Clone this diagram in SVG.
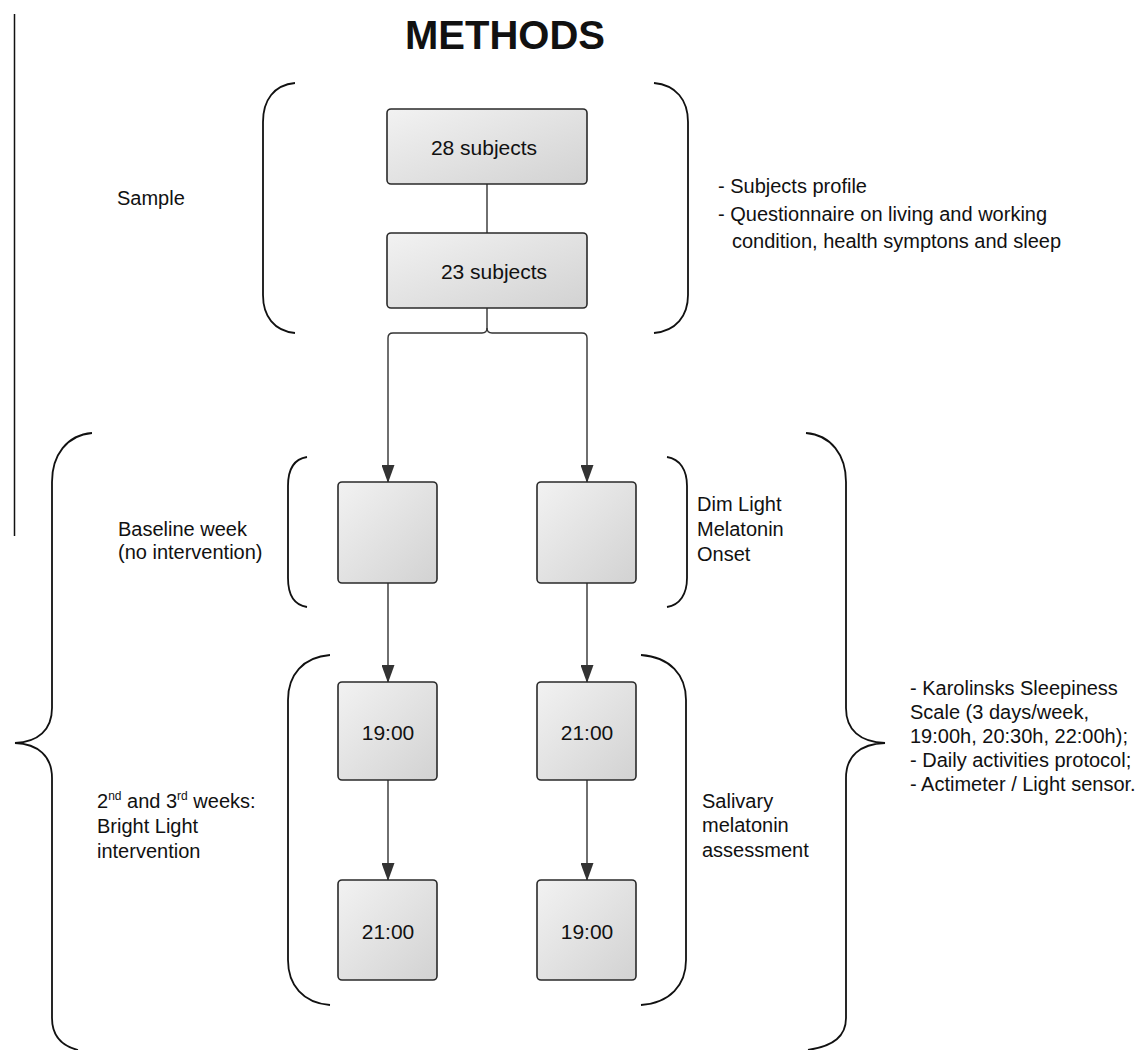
<svg xmlns="http://www.w3.org/2000/svg" width="1147" height="1050" viewBox="0 0 1147 1050">
<defs>
<linearGradient id="boxfill" x1="0" y1="0" x2="1" y2="1">
<stop offset="0" stop-color="#f2f2f2"/>
<stop offset="1" stop-color="#d2d2d2"/>
</linearGradient>
<marker id="arrow" markerWidth="18" markerHeight="13" refX="17" refY="6.5" orient="auto" markerUnits="userSpaceOnUse" viewBox="0 0 18 13">
<path d="M0,0 L18,6.5 L0,13 Z" fill="#333"/>
</marker>
</defs>
<style>
.box{fill:url(#boxfill);stroke:#2a2a2a;stroke-width:1.6}
.t{font-family:"Liberation Sans",Arial,sans-serif;font-size:20px;fill:#111}
.bt{font-family:"Liberation Sans",Arial,sans-serif;font-size:21px;fill:#111;text-anchor:middle}
.br{fill:none;stroke:#111;stroke-width:1.8}
.conn{fill:none;stroke:#333;stroke-width:1.4}
.sup{font-size:12px}
</style>
<rect width="1147" height="1050" fill="#fff"/>
<text x="505" y="49" style="font-family:'Liberation Sans',Arial,sans-serif;font-size:40px;font-weight:bold;text-anchor:middle" fill="#111">METHODS</text>
<line x1="14.5" y1="14" x2="14.5" y2="536" stroke="#111" stroke-width="1.5"/>

<g id="brackets">
<path class="br" d="M295,83 C274,85 263,100 263,122 L263,295 C263,316 274,331 295,333"/>
<path class="br" d="M654,83 C676,85 688,100 688,122 L688,295 C688,316 676,331 654,333"/>
<path class="br" d="M307,457 C294,459 288,470 288,486 L288,578 C288,594 294,605 307,607"/>
<path class="br" d="M667,457 C680,459 687,470 687,486 L687,578 C687,594 680,605 667,607"/>
<path class="br" d="M330,655 C303,657 288,675 288,700 L288,960 C288,985 303,1003 330,1005"/>
<path class="br" d="M641,655 C670,657 686,675 686,700 L686,960 C686,985 670,1003 641,1005"/>
<path class="br" d="M92,433 C67,435 52,455 52,482 L52,708 C52,730 38,742 15,743 C38,744 52,756 52,778 L52,1018 C52,1036 62,1046 78,1050"/>
<path class="br" d="M806,433 C831,435 846,455 846,482 L846,708 C846,730 860,742 885,743 C860,744 846,756 846,778 L846,1018 C846,1036 834,1046 808,1050"/>
</g>

<g id="connectors">
<line class="conn" x1="487" y1="184" x2="487" y2="233"/>
<path class="conn" d="M487,308 V328 Q487,333 482,333 H393 Q388,333 388,338 V482" marker-end="url(#arrow)"/>
<path class="conn" d="M487,328 Q487,333 492,333 H582 Q587,333 587,338 V482" marker-end="url(#arrow)"/>
<line class="conn" x1="388" y1="583" x2="388" y2="682" marker-end="url(#arrow)"/>
<line class="conn" x1="587" y1="583" x2="587" y2="682" marker-end="url(#arrow)"/>
<line class="conn" x1="388" y1="780" x2="388" y2="880" marker-end="url(#arrow)"/>
<line class="conn" x1="587" y1="780" x2="587" y2="880" marker-end="url(#arrow)"/>
</g>

<g id="n28"><rect class="box" x="387" y="109" width="200" height="75" rx="4"/><text class="bt" x="484" y="155">28 subjects</text></g>
<g id="n23"><rect class="box" x="387" y="233" width="200" height="75" rx="4"/><text class="bt" x="494" y="279">23 subjects</text></g>
<g id="baseL"><rect class="box" x="338" y="482" width="99" height="101" rx="4"/></g>
<g id="baseR"><rect class="box" x="537" y="482" width="99" height="101" rx="4"/></g>
<g id="l1900"><rect class="box" x="338" y="682" width="99" height="98" rx="4"/><text class="bt" x="388" y="740">19:00</text></g>
<g id="r2100"><rect class="box" x="537" y="682" width="99" height="98" rx="4"/><text class="bt" x="587" y="740">21:00</text></g>
<g id="l2100"><rect class="box" x="338" y="880" width="99" height="100" rx="4"/><text class="bt" x="388" y="939">21:00</text></g>
<g id="r1900"><rect class="box" x="537" y="880" width="99" height="100" rx="4"/><text class="bt" x="587" y="939">19:00</text></g>

<g id="labels">
<text class="t" x="117" y="205">Sample</text>
<text class="t" x="718" y="193">- Subjects profile</text>
<text class="t" x="718" y="221">- Questionnaire on living and working</text>
<text class="t" x="732" y="248">condition, health symptons and sleep</text>
<text class="t" x="118" y="536">Baseline week</text>
<text class="t" x="118" y="559">(no intervention)</text>
<text class="t" x="697" y="511">Dim Light</text>
<text class="t" x="697" y="536">Melatonin</text>
<text class="t" x="697" y="561">Onset</text>
<text class="t" x="97" y="808">2<tspan class="sup" dy="-8">nd</tspan><tspan dy="8"> and 3</tspan><tspan class="sup" dy="-8">rd</tspan><tspan dy="8"> weeks:</tspan></text>
<text class="t" x="97" y="833">Bright Light</text>
<text class="t" x="97" y="858">intervention</text>
<text class="t" x="702" y="808">Salivary</text>
<text class="t" x="702" y="832">melatonin</text>
<text class="t" x="702" y="857">assessment</text>
<text class="t" x="910" y="695">- Karolinsks Sleepiness</text>
<text class="t" x="910" y="719">Scale (3 days/week,</text>
<text class="t" x="910" y="743">19:00h, 20:30h, 22:00h);</text>
<text class="t" x="910" y="767">- Daily activities protocol;</text>
<text class="t" x="910" y="791">- Actimeter / Light sensor.</text>
</g>
</svg>
